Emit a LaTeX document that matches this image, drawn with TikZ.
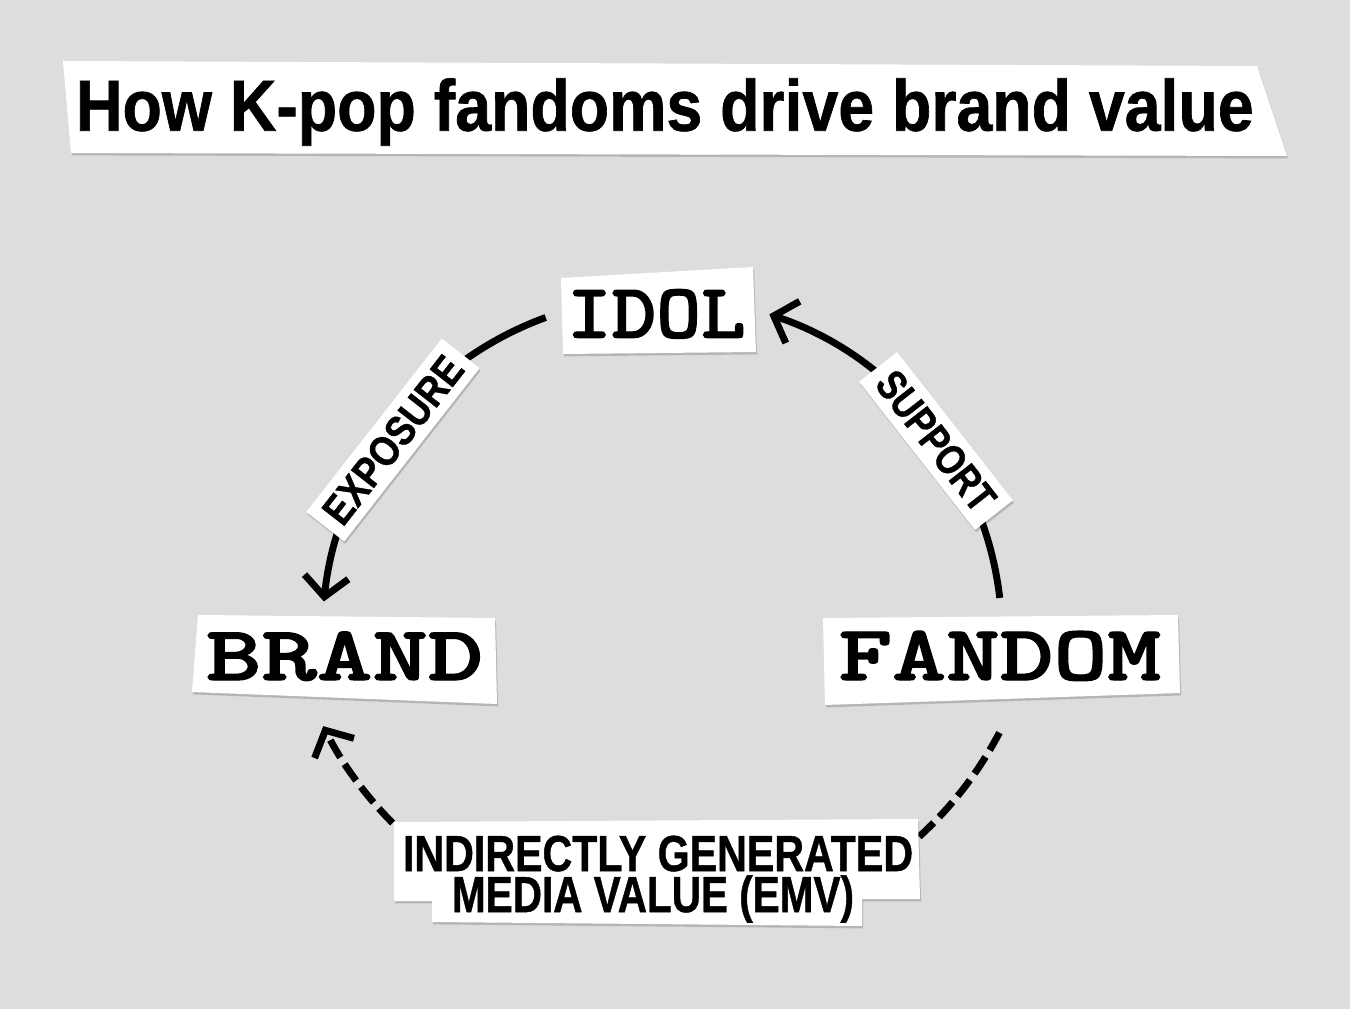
\documentclass[tikz,border=0pt]{standalone}
\usepackage{fontspec}
\usepackage{graphicx}
\usetikzlibrary{arrows.meta,calc,shadows}
\newfontfamily\sansfnt{Liberation Sans}[FakeBold=1]
\newfontfamily\typewfnt{lmmonolt10-bold.otf}[FakeBold=1.5]
\newcommand{\typew}{\typewfnt}
\definecolor{bg}{RGB}{221,221,221}
\tikzset{
  conn/.style={line width=5.2pt, draw=black, -{Straight Barb[length=15pt,width=33pt]}},
  dashconn/.style={conn, dash pattern=on 15pt off 6pt},
  paper/.style={fill=white, drop shadow={shadow xshift=0.8pt, shadow yshift=-1.8pt, opacity=0.18, fill=black}},
  txt/.style={inner sep=0pt, outer sep=0pt, anchor=base west},
  lab/.style={paper, inner sep=0pt, minimum width=165pt, minimum height=36pt},
}
\begin{document}
\begin{tikzpicture}[x=0.75pt, y=0.75pt]
\fill[bg] (0,0) rectangle (1350,-1009);
\useasboundingbox (0,0) rectangle (1350,-1009);

% circle geometry
\coordinate (C) at (662,-637);
\coordinate (C2) at (663,-556);
\coordinate (ex-s) at ($(C)+(110:340)$);
\coordinate (su-s) at ($(C)+(6.6:340)$);
\coordinate (em-s) at ($(C2)+(-27.7:380)$);
\coordinate (em-m) at ($(C2)+(-130:380)$);

% connectors
\draw[conn] (ex-s) arc[start angle=110, end angle=174, radius=340];
\draw[conn] (su-s) arc[start angle=6.6, end angle=71.6, radius=340];
\draw[dashconn] (em-s) arc[start angle=-27.7, end angle=-50, radius=380]
   -- (em-m) arc[start angle=-130, end angle=-153.4, radius=380];

% title
\fill[paper] (63,-61) -- (1257,-66) -- (1287,-156) -- (71,-153) -- cycle;
\node[txt] (title) at (76,-130.7) {\resizebox{883pt}{39.3pt}{\sansfnt\bfseries How K-pop fandoms drive brand value}};

% IDOL
\fill[paper] (561,-278) -- (753,-267) -- (756,-352) -- (563,-354) -- cycle;
\node[txt] (idol) at (567,-337.7) {\resizebox{134pt}{36.3pt}{\typew IDOL}};

% BRAND
\fill[paper] (198,-615) -- (495,-618) -- (497,-704) -- (192,-692) -- cycle;
\node[txt] (brand) at (206,-680) {\resizebox{208pt}{36.2pt}{\typew BRAND}};

% FANDOM
\fill[paper] (823,-618) -- (1178,-615) -- (1180,-693) -- (825,-705) -- cycle;
\node[txt] (fandom) at (838.5,-680) {\resizebox{242pt}{36.75pt}{\typew FANDOM}};

% arc labels
\node[lab, rotate=52] (exposure) at (393,-440) {\resizebox{150pt}{22pt}{\sansfnt\bfseries EXPOSURE}};
\node[lab, rotate=-52, minimum width=141pt] (support) at (936,-441) {\resizebox{124pt}{22pt}{\sansfnt\bfseries SUPPORT}};

% EMV label
\fill[paper] (394,-822) -- (918,-819) -- (920,-899) -- (862,-899) -- (862,-926) -- (432,-922) -- (432,-901) -- (394,-901) -- cycle;
\node[txt] (emv1) at (403,-871) {\resizebox{382.5pt}{26.5pt}{\sansfnt\bfseries INDIRECTLY GENERATED}};
\node[txt] (emv2) at (452,-912) {\resizebox{301.5pt}{27.5pt}{\sansfnt\bfseries MEDIA VALUE (EMV)}};
\end{tikzpicture}
\end{document}
